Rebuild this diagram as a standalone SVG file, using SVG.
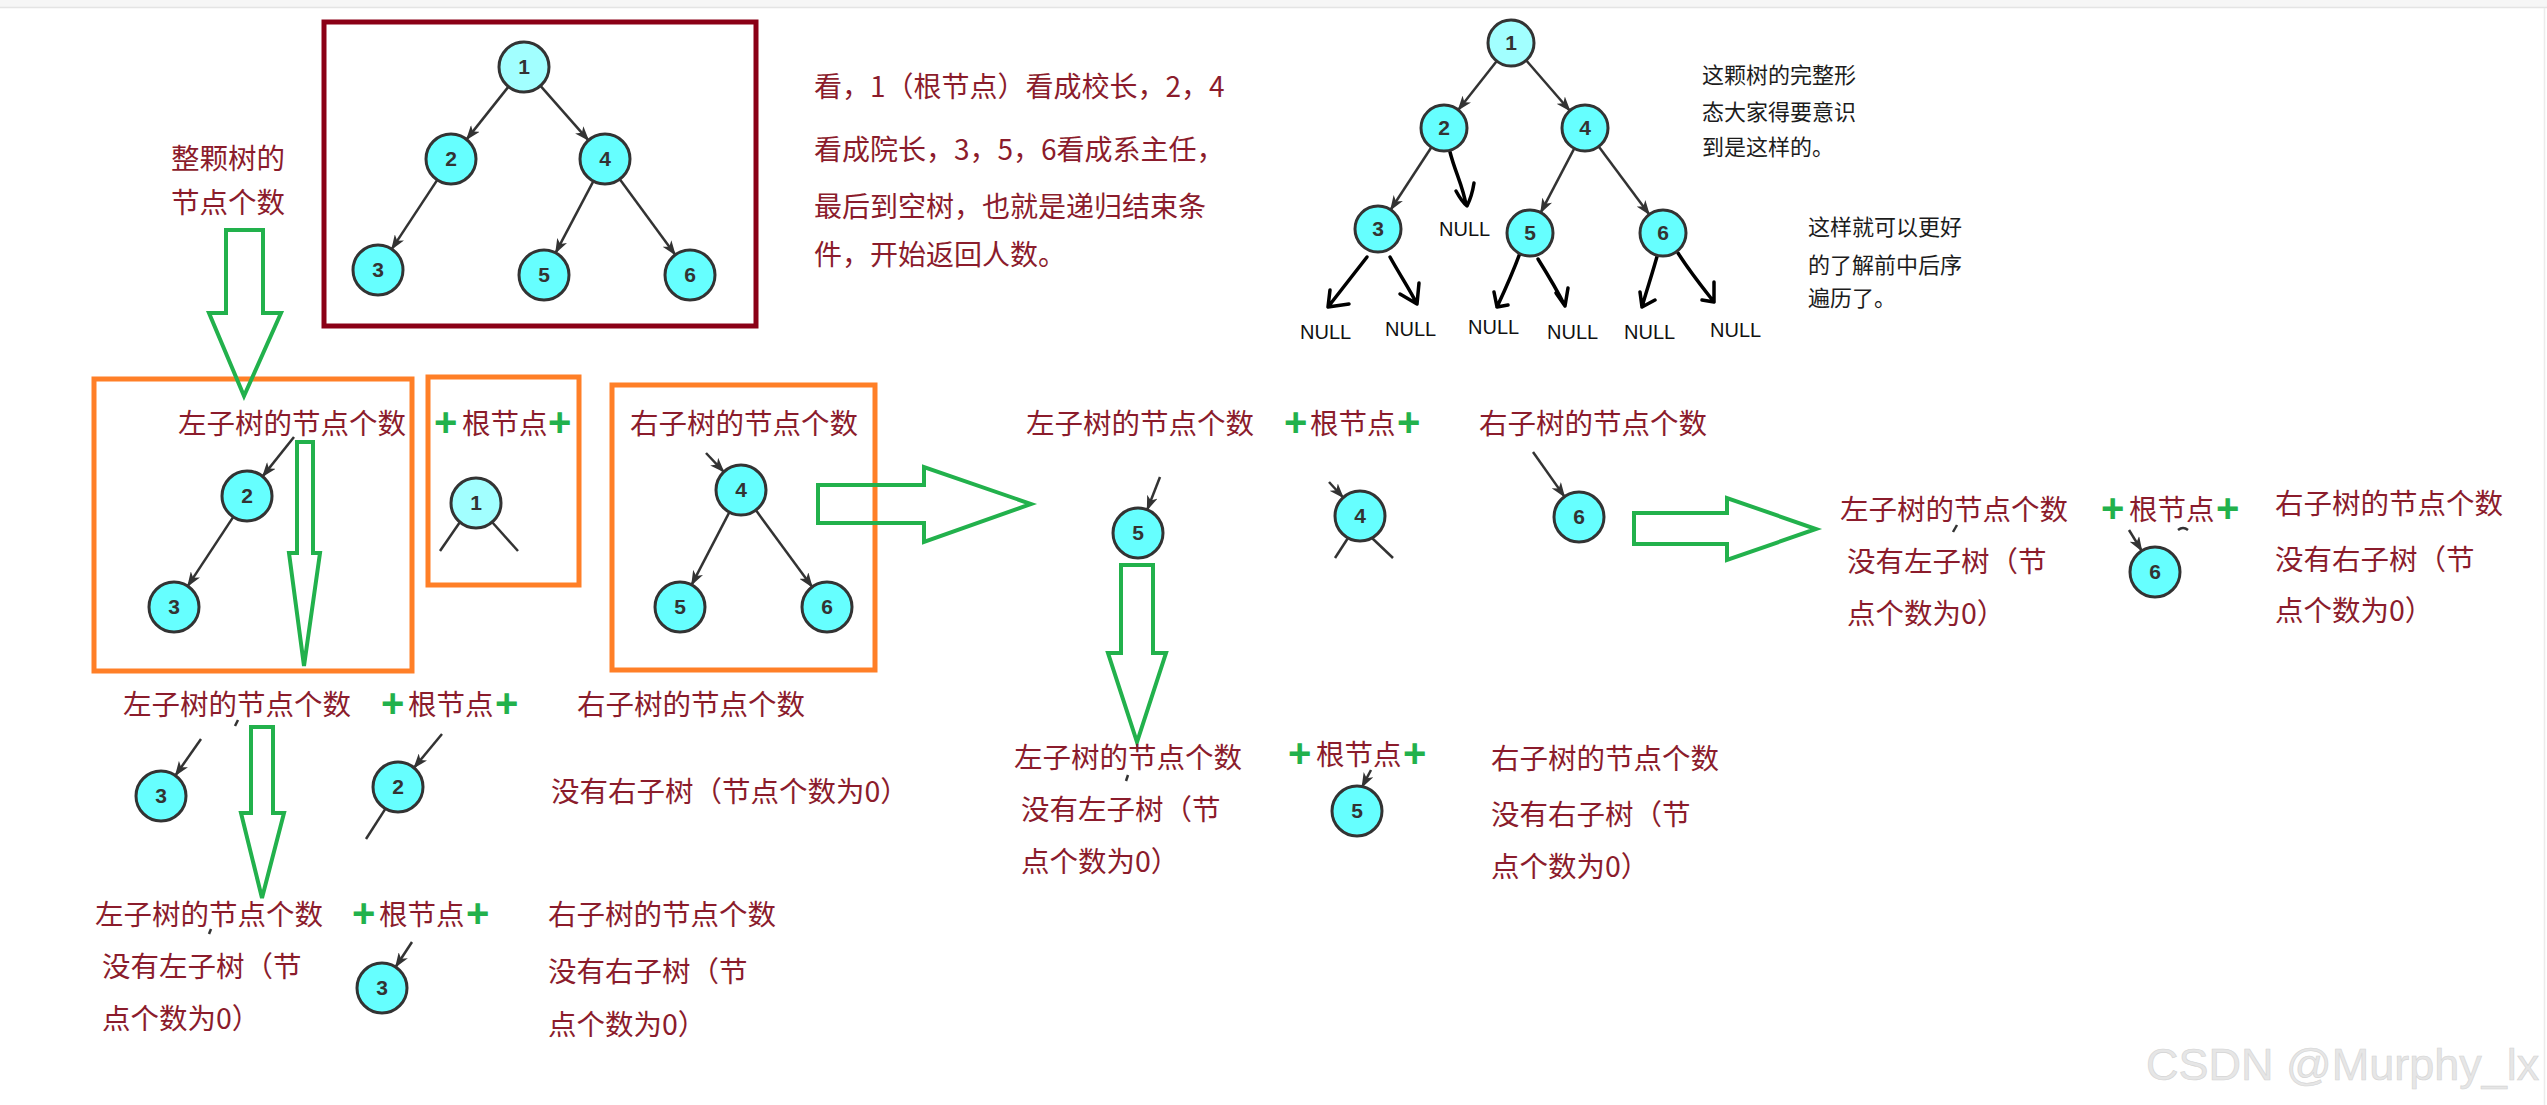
<svg xmlns="http://www.w3.org/2000/svg" width="2547" height="1105" viewBox="0 0 2547 1105">
<style>
.t{font-family:"Noto Sans CJK SC","Noto Sans",sans-serif;font-size:28.5px;fill:#8B1C2C}
.p{font-family:"Noto Sans CJK SC","Noto Sans",sans-serif;font-size:28px;fill:#8B1C2C}
.g{font-family:"Liberation Sans",sans-serif;font-weight:bold;font-size:40px;fill:#22B14C}
.k{font-family:"Noto Sans CJK SC","Noto Sans",sans-serif;font-size:22px;fill:#1c1c1c}
.nl{font-family:"Liberation Sans",sans-serif;font-size:20px;fill:#111}
.nd circle{fill:#66FFFF;stroke:#333;stroke-width:3}
.nd.rt circle{fill:#A2FFFF}
.nd text{font-family:"Liberation Sans",sans-serif;font-weight:bold;font-size:21px;fill:#333;text-anchor:middle}
.e{stroke:#333;stroke-width:2.5;fill:none}
.ea{stroke:#333;stroke-width:2.5;fill:none;marker-end:url(#ah)}
.h{stroke:#000;stroke-width:3.5;fill:none;stroke-linecap:round;stroke-linejoin:round}
.ga{fill:none;stroke:#22B14C;stroke-width:4;stroke-linejoin:miter}
.ob{fill:none;stroke:#FF7F27;stroke-width:5}
</style>
<defs>
<marker id="ah" markerUnits="userSpaceOnUse" markerWidth="15" markerHeight="11" refX="14" refY="5.5" orient="auto">
<path d="M0,0 L15,5.5 L0,11 L4,5.5 z" fill="#333"/>
</marker>
</defs>
<rect x="0" y="0" width="2547" height="1105" fill="#fff"/>
<rect x="0" y="0" width="2547" height="7" fill="#f6f6f6"/>
<line x1="0" y1="7.5" x2="2547" y2="7.5" stroke="#e4e4e4" stroke-width="1.5"/>
<line x1="2544.5" y1="8" x2="2544.5" y2="1105" stroke="#ececec" stroke-width="1.5"/>

<!-- frames -->
<g id="frames">
<rect x="324" y="22" width="432" height="304" fill="none" stroke="#8B0016" stroke-width="5"/>
<rect class="ob" x="94" y="379" width="318" height="292"/>
<rect class="ob" x="428" y="377" width="151" height="208"/>
<rect class="ob" x="612" y="385" width="263" height="285"/>
</g>

<!-- connectors -->
<g id="connectors">
<!-- red box tree -->
<line class="ea" x1="508.5" y1="86.6" x2="466.6" y2="139.4"/>
<line class="ea" x1="540.5" y1="85.8" x2="588.5" y2="140.3"/>
<line class="ea" x1="437.3" y1="179.9" x2="391.7" y2="249.1"/>
<line class="ea" x1="593.4" y1="181.1" x2="555.6" y2="252.9"/>
<line class="ea" x1="619.8" y1="179.2" x2="675.2" y2="254.8"/>
<!-- top right tree -->
<line class="ea" x1="1496.8" y1="61.1" x2="1458.2" y2="110"/>
<line class="ea" x1="1526.1" y1="60.3" x2="1569.9" y2="110.7"/>
<line class="ea" x1="1431.4" y1="147.2" x2="1390.6" y2="209.8"/>
<line class="ea" x1="1574.3" y1="148.4" x2="1540.7" y2="212.6"/>
<line class="ea" x1="1598.7" y1="146.5" x2="1649.3" y2="214.5"/>
<!-- hand drawn NULL arrows -->
<path class="h" d="M1450,152 C1455,172 1463,186 1466,205 M1456,191 Q1462,202 1467,206 Q1472,196 1474,183"/>
<path class="h" d="M1367,257 L1328,307 M1330,290 L1328,307 L1349,304"/>
<path class="h" d="M1390,257 C1400,275 1410,290 1417,304 M1400,294 L1417,304 L1419,283"/>
<path class="h" d="M1520,253 C1512,275 1504,292 1497,307 M1494,292 L1497,307 L1508,305"/>
<path class="h" d="M1538,259 C1548,275 1558,292 1565,306 M1556,293 L1565,306 L1568,288"/>
<path class="h" d="M1658,253 C1652,275 1646,292 1642,307 M1640,292 L1642,307 L1655,300"/>
<path class="h" d="M1678,253 C1690,272 1703,288 1714,302 M1702,300 L1714,302 L1714,282"/>
<!-- box1 -->
<line class="ea" x1="294" y1="437" x2="262.6" y2="476.4"/>
<line class="ea" x1="233.3" y1="516.9" x2="187.7" y2="586.1"/>
<!-- root box -->
<line class="e" x1="460" y1="522" x2="440" y2="551"/>
<line class="e" x1="492" y1="522" x2="518" y2="551"/>
<!-- box3 -->
<line class="ea" x1="706" y1="453" x2="723.8" y2="471.8"/>
<line class="ea" x1="729.4" y1="512.2" x2="691.6" y2="584.8"/>
<line class="ea" x1="755.8" y1="510.1" x2="812.2" y2="586.9"/>
<!-- middle group -->
<line class="ea" x1="1160" y1="477" x2="1147.2" y2="509.8"/>
<line class="ea" x1="1329" y1="482" x2="1343.2" y2="497.5"/>
<line class="e" x1="1348" y1="538" x2="1335" y2="558"/>
<line class="e" x1="1372" y1="538" x2="1393" y2="558"/>
<line class="ea" x1="1533" y1="452" x2="1564.5" y2="496.6"/>
<!-- right group -->
<line class="ea" x1="2129" y1="530" x2="2141.8" y2="550.8"/>
<!-- row 2 -->
<line class="ea" x1="201" y1="739" x2="175.4" y2="775.5"/>
<line class="ea" x1="442" y1="734" x2="414" y2="767.8"/>
<line class="e" x1="385.5" y1="808.6" x2="366" y2="839"/>
<!-- row 3 -->
<line class="ea" x1="412" y1="942" x2="395.6" y2="967"/>
<!-- middle row 3 -->
<line class="ea" x1="1371" y1="770" x2="1362" y2="787"/>
<!-- small fragments -->
<line class="e" x1="238" y1="720" x2="235" y2="726"/>
<line class="e" x1="211" y1="929" x2="209" y2="934"/>
<line class="e" x1="1128" y1="775" x2="1126" y2="781"/>
<line class="e" x1="1957" y1="525" x2="1953" y2="532"/>
<path class="e" d="M2178,530 Q2183,526 2188,530"/>
<!-- green block arrows -->
<polygon class="ga" points="226,230 263,230 263,313 281,313 244,396 209,313 226,313"/>
<polygon class="ga" points="297,442 313,442 313,553 320,553 304,666 289,553 297,553"/>
<polygon class="ga" points="818,485 924,485 924,467 1031,504 924,542 924,523 818,523"/>
<polygon class="ga" points="1634,513 1727,513 1727,498 1816,529 1727,560 1727,544 1634,544"/>
<polygon class="ga" points="1121,565 1153,565 1153,653 1166,653 1137,742 1108,653 1121,653"/>
<polygon class="ga" points="251,727 273,727 273,813 284,813 262,898 241,813 251,813"/>
</g>

<!-- red box tree nodes -->
<g id="t1-n1" class="nd rt"><circle cx="524" cy="67" r="25"/><text x="524" y="74">1</text></g>
<g id="t1-n2" class="nd"><circle cx="451" cy="159" r="25"/><text x="451" y="166">2</text></g>
<g id="t1-n4" class="nd"><circle cx="605" cy="159" r="25"/><text x="605" y="166">4</text></g>
<g id="t1-n3" class="nd"><circle cx="378" cy="270" r="25"/><text x="378" y="277">3</text></g>
<g id="t1-n5" class="nd"><circle cx="544" cy="275" r="25"/><text x="544" y="282">5</text></g>
<g id="t1-n6" class="nd"><circle cx="690" cy="275" r="25"/><text x="690" y="282">6</text></g>

<!-- top right tree nodes -->
<g id="t2-n1" class="nd rt"><circle cx="1511" cy="43" r="23"/><text x="1511" y="50">1</text></g>
<g id="t2-n2" class="nd"><circle cx="1444" cy="128" r="23"/><text x="1444" y="135">2</text></g>
<g id="t2-n4" class="nd"><circle cx="1585" cy="128" r="23"/><text x="1585" y="135">4</text></g>
<g id="t2-n3" class="nd"><circle cx="1378" cy="229" r="23"/><text x="1378" y="236">3</text></g>
<g id="t2-n5" class="nd"><circle cx="1530" cy="233" r="23"/><text x="1530" y="240">5</text></g>
<g id="t2-n6" class="nd"><circle cx="1663" cy="233" r="23"/><text x="1663" y="240">6</text></g>
<g id="nulls">
<text class="nl" x="1439" y="236">NULL</text>
<text class="nl" x="1300" y="339">NULL</text>
<text class="nl" x="1385" y="336">NULL</text>
<text class="nl" x="1468" y="334">NULL</text>
<text class="nl" x="1547" y="339">NULL</text>
<text class="nl" x="1624" y="339">NULL</text>
<text class="nl" x="1710" y="337">NULL</text>
</g>

<!-- box nodes -->
<g id="b1-n2" class="nd"><circle cx="247" cy="496" r="25"/><text x="247" y="503">2</text></g>
<g id="b1-n3" class="nd"><circle cx="174" cy="607" r="25"/><text x="174" y="614">3</text></g>
<g id="b2-n1" class="nd rt"><circle cx="476" cy="503" r="25"/><text x="476" y="510">1</text></g>
<g id="b3-n4" class="nd"><circle cx="741" cy="490" r="25"/><text x="741" y="497">4</text></g>
<g id="b3-n5" class="nd"><circle cx="680" cy="607" r="25"/><text x="680" y="614">5</text></g>
<g id="b3-n6" class="nd"><circle cx="827" cy="607" r="25"/><text x="827" y="614">6</text></g>
<g id="m-n5" class="nd"><circle cx="1138" cy="533" r="25"/><text x="1138" y="540">5</text></g>
<g id="m-n4" class="nd"><circle cx="1360" cy="516" r="25"/><text x="1360" y="523">4</text></g>
<g id="m-n6" class="nd"><circle cx="1579" cy="517" r="25"/><text x="1579" y="524">6</text></g>
<g id="r-n6" class="nd"><circle cx="2155" cy="572" r="25"/><text x="2155" y="579">6</text></g>
<g id="r2-n3" class="nd"><circle cx="161" cy="796" r="25"/><text x="161" y="803">3</text></g>
<g id="r2-n2" class="nd"><circle cx="398" cy="787" r="25"/><text x="398" y="794">2</text></g>
<g id="r3-n3" class="nd"><circle cx="382" cy="988" r="25"/><text x="382" y="995">3</text></g>
<g id="m3-n5" class="nd"><circle cx="1357" cy="811" r="25"/><text x="1357" y="818">5</text></g>

<!-- texts -->
<g id="labels">
<text class="t" x="171" y="169">整颗树的</text>
<text class="t" x="171" y="213">节点个数</text>

<text class="p" x="814" y="97">看，1（根节点）看成校长，2，4</text>
<text class="p" x="814" y="160">看成院长，3，5，6看成系主任，</text>
<text class="p" x="814" y="217">最后到空树，也就是递归结束条</text>
<text class="p" x="814" y="265">件，开始返回人数。</text>

<text class="k" x="1702" y="83">这颗树的完整形</text>
<text class="k" x="1702" y="120">态大家得要意识</text>
<text class="k" x="1702" y="155">到是这样的。</text>
<text class="k" x="1808" y="235">这样就可以更好</text>
<text class="k" x="1808" y="273">的了解前中后序</text>
<text class="k" x="1808" y="306">遍历了。</text>

<!-- row 1 -->
<text class="t" x="178" y="434">左子树的节点个数</text>
<text class="g" x="434" y="436">+</text><text class="t" x="462" y="434">根节点</text><text class="g" x="548" y="436">+</text>
<text class="t" x="630" y="434">右子树的节点个数</text>

<text class="t" x="1026" y="434">左子树的节点个数</text>
<text class="g" x="1284" y="436">+</text><text class="t" x="1310" y="434">根节点</text><text class="g" x="1397" y="436">+</text>
<text class="t" x="1479" y="434">右子树的节点个数</text>

<text class="t" x="1840" y="520">左子树的节点个数</text>
<text class="g" x="2101" y="522">+</text><text class="t" x="2129" y="520">根节点</text><text class="g" x="2216" y="522">+</text>
<text class="t" x="2275" y="514">右子树的节点个数</text>
<text class="t" x="1847" y="572">没有左子树（节</text>
<text class="t" x="1847" y="624">点个数为0）</text>
<text class="t" x="2275" y="570">没有右子树（节</text>
<text class="t" x="2275" y="621">点个数为0）</text>

<!-- row 2 -->
<text class="t" x="123" y="715">左子树的节点个数</text>
<text class="g" x="381" y="717">+</text><text class="t" x="408" y="715">根节点</text><text class="g" x="495" y="717">+</text>
<text class="t" x="577" y="715">右子树的节点个数</text>
<text class="t" x="551" y="802">没有右子树（节点个数为0）</text>

<!-- row 3 -->
<text class="t" x="95" y="925">左子树的节点个数</text>
<text class="g" x="352" y="927">+</text><text class="t" x="379" y="925">根节点</text><text class="g" x="466" y="927">+</text>
<text class="t" x="548" y="925">右子树的节点个数</text>
<text class="t" x="102" y="977">没有左子树（节</text>
<text class="t" x="102" y="1029">点个数为0）</text>
<text class="t" x="548" y="982">没有右子树（节</text>
<text class="t" x="548" y="1035">点个数为0）</text>

<!-- middle row 3 -->
<text class="t" x="1014" y="768">左子树的节点个数</text>
<text class="g" x="1288" y="767">+</text><text class="t" x="1316" y="765">根节点</text><text class="g" x="1403" y="767">+</text>
<text class="t" x="1491" y="769">右子树的节点个数</text>
<text class="t" x="1021" y="820">没有左子树（节</text>
<text class="t" x="1021" y="872">点个数为0）</text>
<text class="t" x="1491" y="825">没有右子树（节</text>
<text class="t" x="1491" y="877">点个数为0）</text>
</g>

<text x="2146" y="1080" font-family="Liberation Sans, sans-serif" font-size="45" fill="#e6e6e6" stroke="#d4d4d4" stroke-width="0.6">CSDN @Murphy_lx</text>
</svg>
